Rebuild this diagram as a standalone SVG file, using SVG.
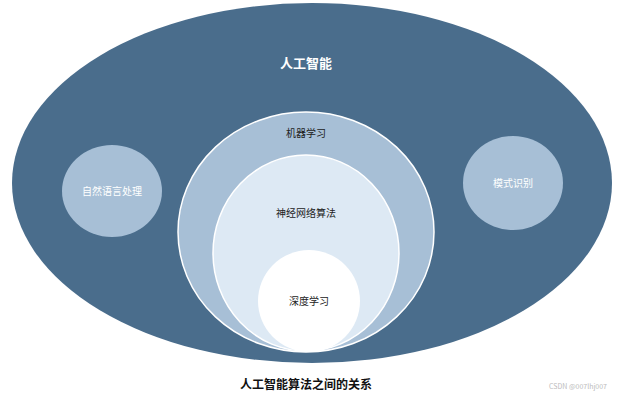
<svg xmlns="http://www.w3.org/2000/svg" width="617" height="400" viewBox="0 0 617 400">
<style>
text{font-family:"Noto Sans CJK SC","Noto Sans",sans-serif;text-anchor:middle}
.l{font-size:10px;fill:#222}
.w{font-size:10px;fill:#fff}
</style>
<rect width="617" height="400" fill="#fff"/>
<g id="ai"><ellipse cx="312" cy="183" rx="300" ry="180" fill="#4a6d8c"/><text x="306" y="68" font-size="13" font-weight="bold" fill="#fff">人工智能</text></g>
<g id="nlp"><ellipse cx="112" cy="191" rx="50" ry="46" fill="#a7bfd6"/><text class="w" x="112" y="195">自然语言处理</text></g>
<g id="pr"><ellipse cx="513" cy="183" rx="50" ry="47" fill="#a7bfd6"/><text class="w" x="513" y="187">模式识别</text></g>
<g id="ml"><ellipse cx="306" cy="232" rx="128" ry="120" fill="#a7bfd6" stroke="#fff" stroke-width="1.5"/><text class="l" x="306" y="137">机器学习</text></g>
<g id="nn"><ellipse cx="306" cy="253" rx="93" ry="98" fill="#dde9f4" stroke="#fff" stroke-width="1.5"/><text class="l" x="306" y="217">神经网络算法</text></g>
<g id="dl"><ellipse cx="309" cy="301" rx="51" ry="51" fill="#fff"/><text class="l" x="309" y="305">深度学习</text></g>
<g id="connectors"/>
<text x="306" y="389" font-size="12" font-weight="bold" fill="#111">人工智能算法之间的关系</text>
<text x="578" y="389" font-size="7" fill="#bbb">CSDN @007lhj007</text>
</svg>
